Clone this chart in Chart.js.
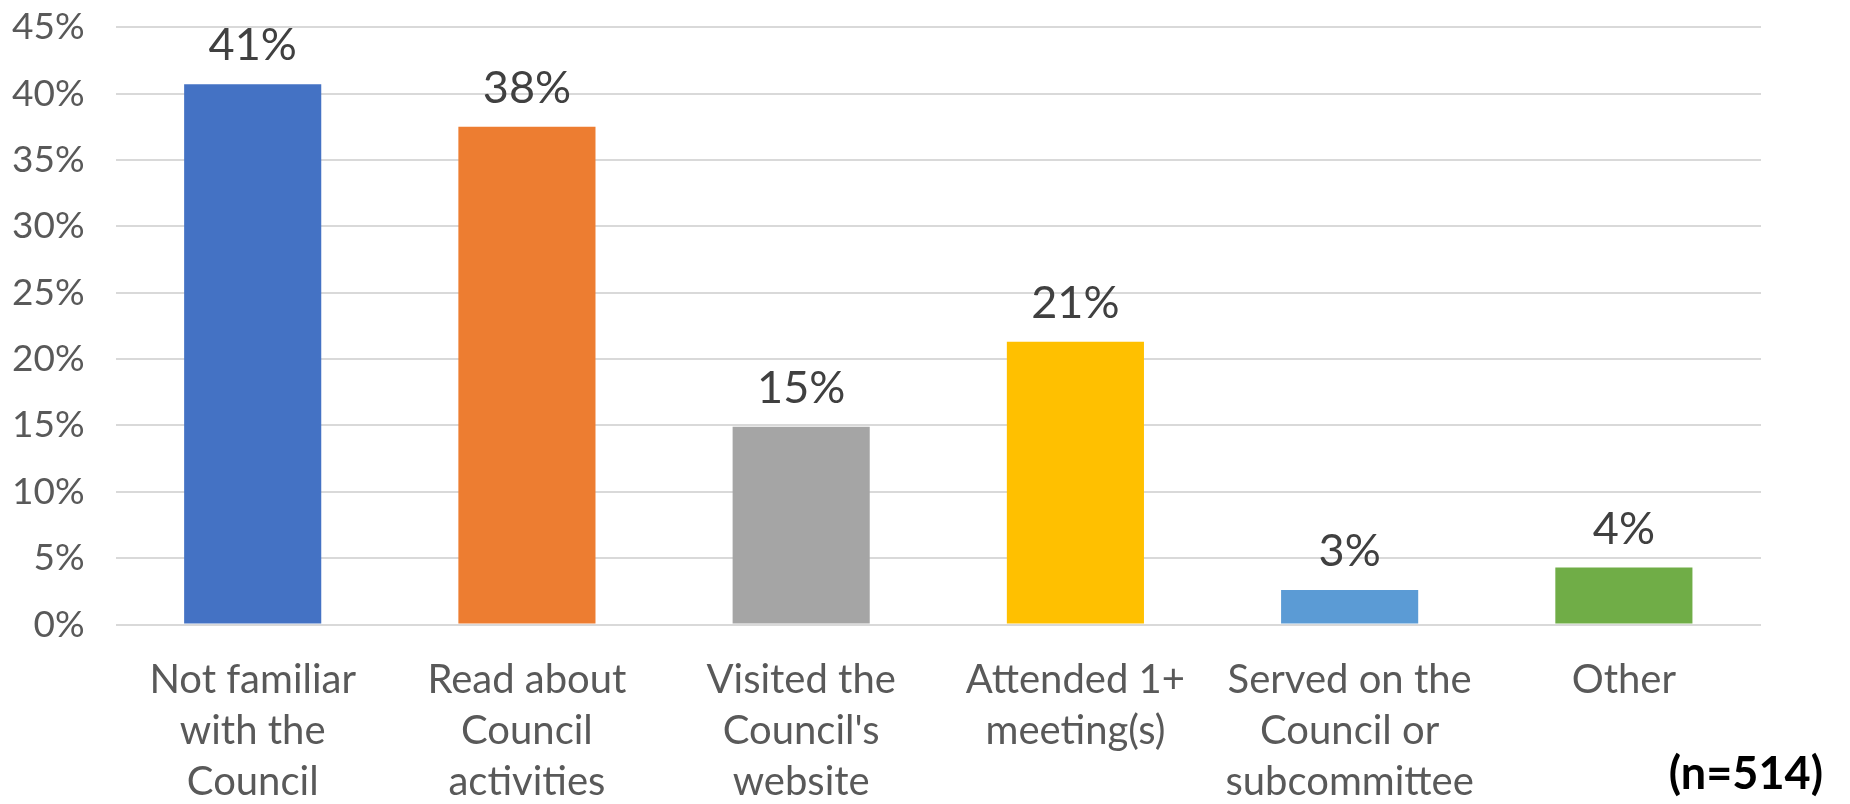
<!DOCTYPE html>
<html lang="en">
<head>
  <meta charset="UTF-8"/>
  <title>Council familiarity</title>
  <script src="https://cdn.jsdelivr.net/npm/chart.js"></script>
  <style>
    html, body { margin: 0; padding: 0; background: #fff; }
    .wrap { width: 1850px; height: 804px; position: relative; }
  </style>
</head>
<body>
  <div class="wrap"><canvas id="bars"></canvas></div>
  <script>
    const categories = [
      ["Not familiar", "with the", "Council"],
      ["Read about", "Council", "activities"],
      ["Visited the", "Council's", "website"],
      ["Attended 1+", "meeting(s)"],
      ["Served on the", "Council or", "subcommittee"],
      ["Other"]
    ];
    const values = [40.7, 37.5, 14.9, 21.3, 2.6, 4.3];
    const barColors = ["#4472C4", "#ED7D31", "#A5A5A5", "#FFC000", "#5B9BD5", "#70AD47"];
    const yTicks = [0, 5, 10, 15, 20, 25, 30, 35, 40, 45];
    const sampleNote = "(n=514)";

    // value labels over each bar + the sample size note
    const barLabels = {
      id: "barLabels",
      afterDatasetsDraw(chart) {
        const ctx = chart.ctx;
        const meta = chart.getDatasetMeta(0);
        ctx.save();
        ctx.font = "45px Lato";
        ctx.fillStyle = "#404040";
        ctx.textAlign = "center";
        ctx.textBaseline = "alphabetic";
        meta.data.forEach((bar, i) => {
          ctx.fillText(Math.round(values[i]) + "%", bar.x, bar.y - 24);
        });
        ctx.font = "bold 45px Lato";
        ctx.fillStyle = "#000";
        ctx.textAlign = "right";
        ctx.fillText(sampleNote, chart.width - 27, 789);
        ctx.restore();
      }
    };

    new Chart(document.getElementById("bars"), {
      type: "bar",
      data: {
        labels: categories,
        datasets: [{
          data: values,
          backgroundColor: barColors,
          barPercentage: 0.5,
          categoryPercentage: 1
        }]
      },
      options: {
        responsive: true,
        maintainAspectRatio: false,
        animation: false,
        layout: { padding: { left: 7, right: 89, top: 0, bottom: -25 } },
        plugins: { legend: { display: false }, tooltip: { enabled: false } },
        scales: {
          x: {
            grid: { display: false },
            border: { display: false },
            ticks: {
              color: "#595959",
              font: { family: "Lato", size: 40, lineHeight: 1.27 },
              padding: 22,
              maxRotation: 0,
              autoSkip: false
            }
          },
          y: {
            min: 0,
            max: 45,
            afterBuildTicks(axis) { axis.ticks = yTicks.map(v => ({ value: v })); },
            grid: { color: "#D9D9D9", lineWidth: 2, drawTicks: true, tickLength: 26, tickColor: "rgba(0,0,0,0)" },
            border: { display: false },
            ticks: {
              color: "#595959",
              font: { family: "Lato", size: 37 },
              padding: 5,
              callback: v => v + "%"
            }
          }
        }
      },
      plugins: [barLabels]
    });
  </script>
</body>
</html>
